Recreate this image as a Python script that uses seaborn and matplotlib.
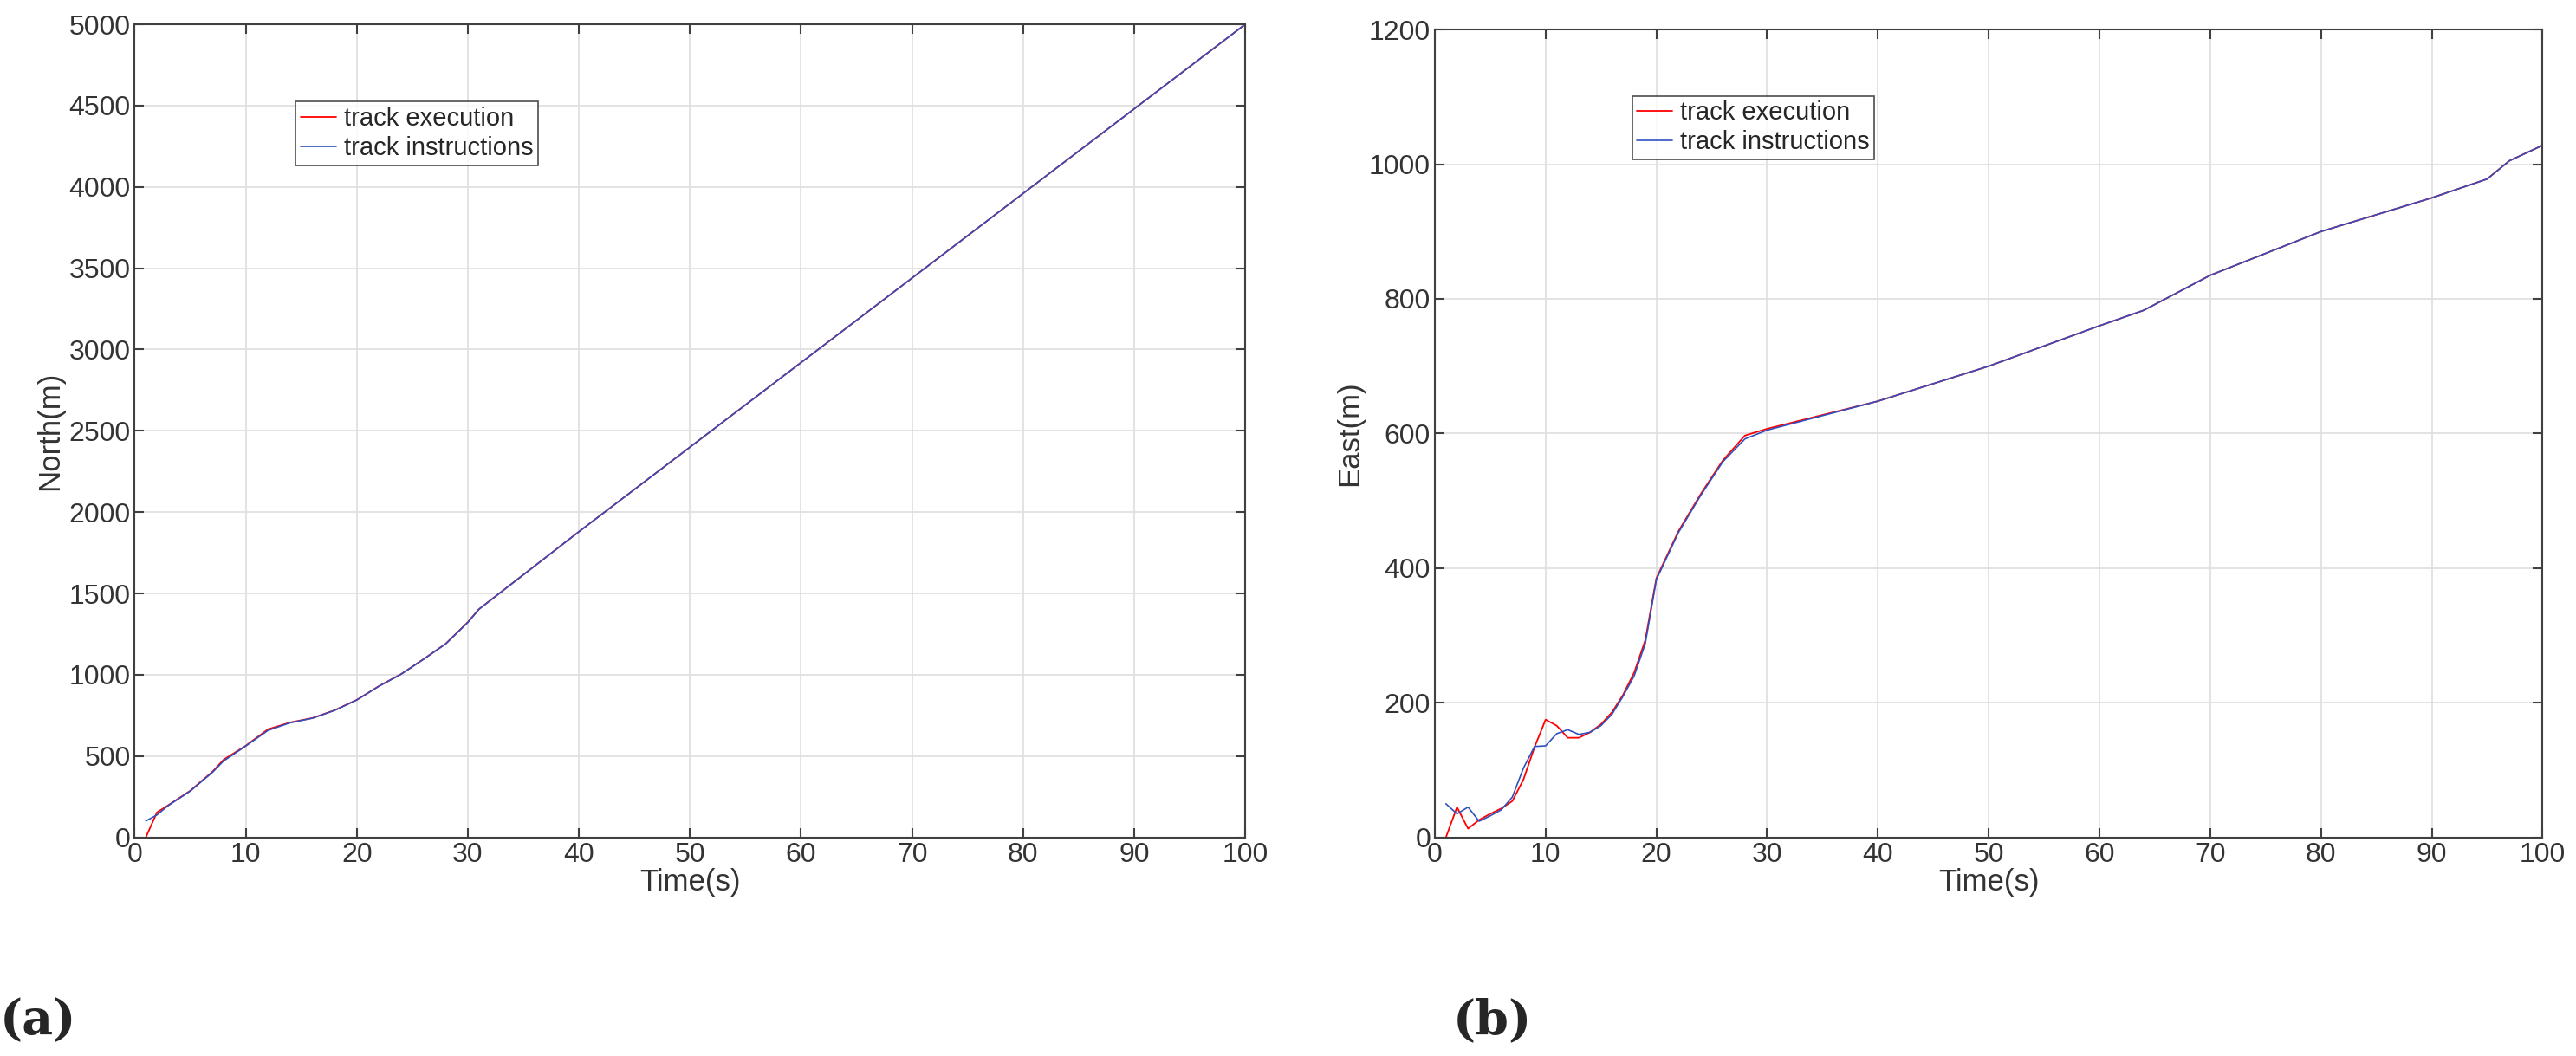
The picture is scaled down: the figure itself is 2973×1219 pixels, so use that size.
import matplotlib
matplotlib.use("Agg")
import matplotlib.pyplot as plt
import seaborn as sns
import pandas as pd

sns.set_theme(style="white")
plt.rcParams['font.family'] = ['Liberation Sans', 'DejaVu Sans']

# ---- data: North ----
n_time_exec = [1, 2, 3, 5, 7, 8, 10, 12, 14, 16, 18, 20, 22, 24, 26, 28, 30, 31, 40, 50, 60, 70, 80, 90, 100]
n_exec = [0, 154, 197, 287, 404, 478, 564, 665, 707, 734, 782, 846, 931, 1005, 1096, 1191, 1324, 1404, 1880, 2400, 2920, 3440, 3960, 4480, 5000]
n_time_instr = [1, 2, 3, 5, 7, 8, 10, 12, 14, 16, 18, 20, 22, 24, 26, 28, 30, 31, 40, 50, 60, 70, 80, 90, 100]
n_instr = [101, 138, 195, 285, 400, 470, 562, 658, 705, 733, 781, 845, 930, 1004, 1095, 1190, 1322, 1403, 1880, 2400, 2920, 3440, 3960, 4480, 5000]

# ---- data: East ----
e_time = [1, 2, 3, 4, 5, 6, 7, 8, 9, 10, 11, 12, 13, 14, 15, 16, 17, 18, 19,
          20, 22, 24, 26, 28, 30, 40, 50, 60, 64, 70, 80, 90, 95, 97, 100]
e_exec = [0, 45, 13, 26, 35, 43, 54, 86, 134, 175, 166, 148, 148, 156, 168, 186, 212, 245, 293,
          385, 455, 510, 560, 597, 607, 648, 700, 760, 783, 835, 900, 950, 978, 1005, 1028]
e_instr = [50, 35, 45, 24, 32, 41, 60, 103, 135, 136, 154, 160, 153, 156, 166, 183, 210, 240, 288,
           383, 453, 508, 558, 592, 605, 648, 700, 760, 783, 835, 900, 950, 978, 1005, 1028]

fig = plt.figure(figsize=(29.73, 12.19), dpi=100)
ax1 = fig.add_axes([0.0523, 0.207, 0.4311, 0.770])
ax2 = fig.add_axes([0.557, 0.207, 0.430, 0.765])

red = '#ff0000'
blue = '#3050c0'
gray = '#404040'

def style(ax, ylim, yticks, ylabel):
    ax.set_xlim(0, 100)
    ax.set_ylim(*ylim)
    ax.set_xticks(range(0, 101, 10))
    ax.set_yticks(yticks)
    ax.grid(True, color='#e0e0e0', linewidth=1.3)
    for s in ax.spines.values():
        s.set_color(gray)
        s.set_linewidth(1.5)
    ax.tick_params(axis='both', direction='in', length=8, width=1.5, colors=gray,
                   labelsize=23, top=True, right=True, bottom=True, left=True)
    ax.tick_params(axis='both', labelcolor='#333333')
    ax.set_xlabel('Time(s)', fontsize=25, color='#333333', labelpad=0)
    ax.set_ylabel(ylabel, fontsize=25, color='#333333', labelpad=4)

dfn1 = pd.DataFrame({'t': n_time_exec, 'v': n_exec})
dfn2 = pd.DataFrame({'t': n_time_instr, 'v': n_instr})
sns.lineplot(data=dfn1, x='t', y='v', ax=ax1, color=red, linewidth=1.3, label='track execution')
sns.lineplot(data=dfn2, x='t', y='v', ax=ax1, color=blue, linewidth=1.2, label='track instructions')
style(ax1, (0, 5000), range(0, 5001, 500), 'North(m)')

dfe = pd.DataFrame({'t': e_time, 'exec': e_exec, 'instr': e_instr})
sns.lineplot(data=dfe, x='t', y='exec', ax=ax2, color=red, linewidth=1.3, label='track execution')
sns.lineplot(data=dfe, x='t', y='instr', ax=ax2, color=blue, linewidth=1.2, label='track instructions')
style(ax2, (0, 1200), range(0, 1201, 200), 'East(m)')

for ax, loc in ((ax1, (0.145, 0.905)), (ax2, (0.178, 0.918))):
    leg = ax.legend(loc='upper left', bbox_to_anchor=loc, fontsize=21, frameon=True,
                    fancybox=False, edgecolor='#202020', handlelength=1.4,
                    handletextpad=0.3, borderpad=0.2, labelspacing=0.2, borderaxespad=0)
    leg.get_frame().set_linewidth(1.2)

fig.text(0.0, 0.02, '(a)', fontsize=40, fontweight='bold', family='DejaVu Serif')
fig.text(0.564, 0.02, '(b)', fontsize=40, fontweight='bold', family='DejaVu Serif')

fig.savefig('out.png', dpi=100)
